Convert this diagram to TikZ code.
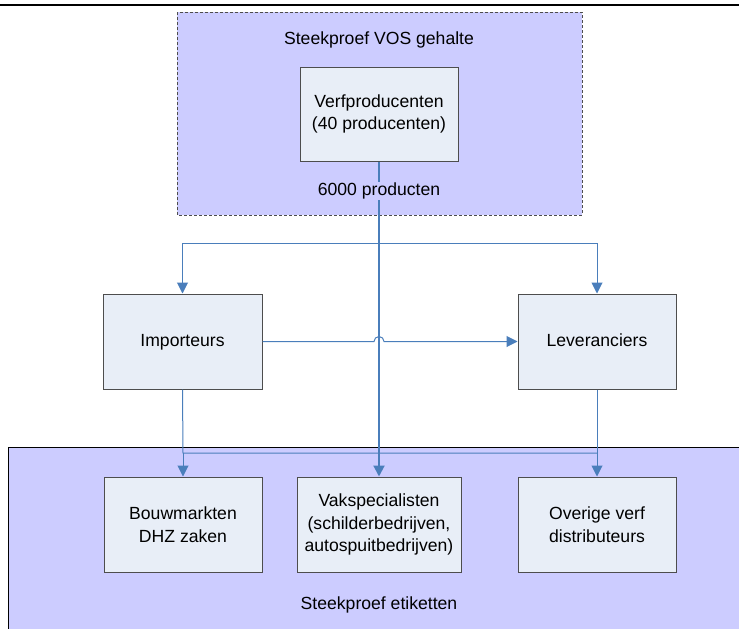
\documentclass[tikz,border=0pt]{standalone}
\usepackage{fontspec}
\setmainfont{Liberation Sans}
\usetikzlibrary{arrows.meta,calc}
\definecolor{lav}{HTML}{CCCCFF}
\definecolor{boxfill}{HTML}{E8EEF7}
\definecolor{boxline}{HTML}{4D4D4D}
\definecolor{conn}{HTML}{4A7EBB}
\tikzset{
  unit/.style={draw=boxline,fill=boxfill,line width=1pt,align=center,inner sep=0pt,
    minimum height=95pt,font=\fontsize{17.6}{22.5}\selectfont},
  lbl/.style={align=center,inner sep=1pt,font=\fontsize{17.6}{22.5}\selectfont},
  wire/.style={draw=conn,line width=1pt},
  wirehead/.style={wire,-{Triangle[length=11pt,width=11pt]}},
}
\begin{document}
\begin{tikzpicture}[x=1pt,y=-1pt]
\useasboundingbox (0,0) rectangle (739,629);
\clip (0,0) rectangle (739,629);
% top rule
\draw[line width=2.5pt] (0,5) -- (739,5);
% group boxes
\draw[fill=lav,draw=boxline,line width=1pt,dash pattern=on 3pt off 2pt] (177,12) rectangle (582,215);
\draw[fill=lav,draw=black,line width=1pt] (8,447) rectangle (760,660);
\node[lbl] (t1) at (379,40) {Steekproef VOS gehalte};
\node[lbl] (t2) at (379,605) {Steekproef etiketten};
% nodes
\node[unit,minimum width=158pt,minimum height=94pt] (verf) at (379,114) {Verfproducenten\\(40 producenten)};
\node[unit,minimum width=159pt] (imp) at (182.5,341.5) {\strut Importeurs};
\node[unit,minimum width=158pt] (lev) at (597,341.5) {\strut Leveranciers};
\node[unit,minimum width=158pt] (bouw) at (183,524.5) {Bouwmarkten\\DHZ zaken};
\node[unit,minimum width=164pt] (vak) at (379,524.5) {Vakspecialisten\\(schilderbedrijven,\\autospuitbedrijven)};
\node[unit,minimum width=158pt] (ov) at (597,524.5) {Overige verf\\distributeurs};
% coordinates
\coordinate (br) at (379,243);
\coordinate (bl) at (183,453);
\coordinate (brr) at (597,453);
\coordinate (jl) at (374,341.5);
% connectors
\draw[wirehead] (br) -| (imp.north);
\draw[wirehead] (br) -| (lev.north);
\draw[wirehead] (imp.east) -- (jl) arc[start angle=180,end angle=0,radius=5pt] -- (lev.west);
\draw[wire] (imp.south) -- (bl) -- (brr);
\draw[wirehead] (bl) -- (bouw.north);
\draw[wirehead] (lev.south) -- (ov.north);
\draw[wirehead,line width=2pt] (verf.south) -- (vak.north);
\node[lbl,fill=lav] (p6000) at (379,191) {6000 producten};
\end{tikzpicture}
\end{document}
